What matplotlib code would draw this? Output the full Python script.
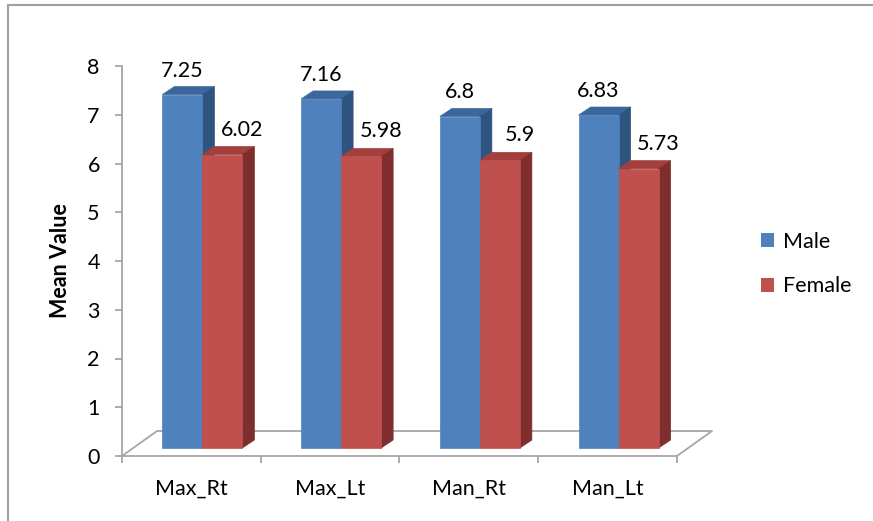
import matplotlib
matplotlib.use("Agg")
import matplotlib.pyplot as plt
from matplotlib.patches import Polygon, Patch
from matplotlib.lines import Line2D

categories = ["Max_Rt", "Max_Lt", "Man_Rt", "Man_Lt"]
male = [7.25, 7.16, 6.8, 6.83]
female = [6.02, 5.98, 5.9, 5.73]
series_names = ["Male", "Female"]

FONT = ["Lato", "DejaVu Sans"]
plt.rcParams["font.family"] = FONT
FS = 15.5

W, H, DPI = 873, 521, 100
fig = plt.figure(figsize=(W / DPI, H / DPI), dpi=DPI)
fig.patch.set_facecolor("white")

# plot box in pixels: x 122..677, y 456 (0) .. 66 (8)
ax = fig.add_axes([122 / W, (H - 456) / H, 555 / W, 390 / H])
ax.set_xlim(0, 4)
ax.set_ylim(0, 8)
ax.set_facecolor("none")

px_x = 4 / 555.0   # data units per pixel, horizontal
px_y = 8 / 390.0   # data units per pixel, vertical

grey = "#A6A6A6"

# 3D floor (outline only)
fdx, fdy = 35 * px_x, 25 * px_y
floor = [(0, 0), (fdx, fdy), (4 + fdx, fdy), (4, 0)]
ax.add_line(Line2D([p[0] for p in floor], [p[1] for p in floor],
                   color=grey, lw=1.3, clip_on=False, zorder=1))

# bar geometry
bar_w = 40 * px_x
front_dx, front_dy = 11 * px_x, 8 * px_y
depth_dx, depth_dy = 12 * px_x, 8 * px_y

colors = {
    "Male": ("#4F81BD", "#3C679C", "#2F5480"),
    "Female": ("#C0504D", "#A33F3C", "#7E2E2C"),
}


def face(pts, c, z):
    ax.add_patch(Polygon(pts, closed=True, fc=c, ec=c, lw=0.5, zorder=z,
                         clip_on=False))


def draw_bar(x0, v, cols, z):
    front, top, side = cols
    y0 = front_dy
    y1 = v + front_dy
    x1 = x0 + bar_w
    face([(x0, y1), (x0 + depth_dx, y1 + depth_dy),
          (x1 + depth_dx, y1 + depth_dy), (x1, y1)], top, z)
    face([(x1, y0), (x1 + depth_dx, y0 + depth_dy),
          (x1 + depth_dx, y1 + depth_dy), (x1, y1)], side, z)
    face([(x0, y0), (x0, y1), (x1, y1), (x1, y0)], front, z)


for i, cat in enumerate(categories):
    centre = i + 0.5
    left = centre - bar_w + front_dx
    draw_bar(left, male[i], colors["Male"], 3 + i * 2)
    draw_bar(left + bar_w, female[i], colors["Female"], 4 + i * 2)
    ax.text(left + bar_w / 2, male[i] + front_dy + 24 * px_y, f"{male[i]:g}",
            ha="center", va="center", fontsize=FS, color="black", zorder=20)
    ax.text(left + 1.5 * bar_w + 20 * px_x, female[i] + front_dy + 25 * px_y,
            f"{female[i]:g}", ha="center", va="center", fontsize=FS,
            color="black", zorder=20)

# axes styling
for s in ["top", "right"]:
    ax.spines[s].set_visible(False)
for s in ["left", "bottom"]:
    ax.spines[s].set_color(grey)
    ax.spines[s].set_linewidth(1.3)
    ax.spines[s].set_zorder(2)

ax.set_yticks(range(0, 9))
ax.tick_params(axis="y", length=5, width=1.3, color=grey, pad=11, labelsize=FS)
ax.set_xticks(range(0, 5))
ax.set_xticklabels([])
ax.set_xticks([i + 0.5 for i in range(4)], minor=True)
ax.set_xticklabels(categories, minor=True)
ax.tick_params(axis="x", which="major", length=5, width=1.3, color=grey)
ax.tick_params(axis="x", which="minor", length=0, pad=16, labelsize=FS)

ax.set_ylabel("Mean Value", fontsize=FS, fontweight="bold", labelpad=12)

# legend
handles = [Patch(fc=colors[n][0], ec="none") for n in series_names]
fig.legend(handles, series_names, loc="center left",
           bbox_to_anchor=(761 / W, 1 - 264 / H), frameon=False,
           fontsize=FS, handlelength=0.6, handleheight=0.6,
           handletextpad=0.4, labelspacing=1.15, borderpad=0,
           borderaxespad=0)

# chart border (top and left edges visible)
fig.add_artist(Line2D([8 / W, 1.0], [1 - 5 / H, 1 - 5 / H], color="#A0A0A0",
                      lw=1.5, transform=fig.transFigure))
fig.add_artist(Line2D([8 / W, 8 / W], [0, 1 - 5 / H], color="#A0A0A0",
                      lw=1.5, transform=fig.transFigure))

fig.savefig("out.png", dpi=DPI, facecolor="white")
